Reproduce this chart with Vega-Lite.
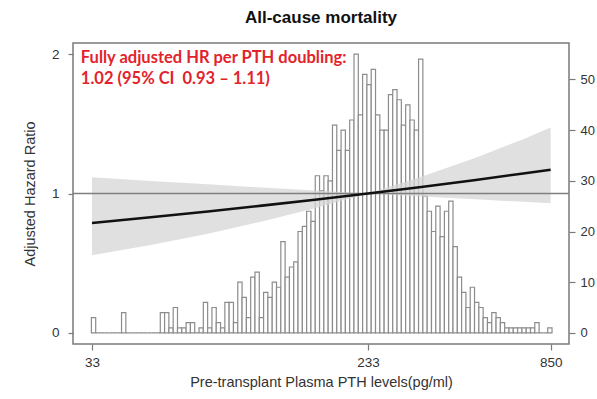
{
  "$schema": "https://vega.github.io/schema/vega-lite/v6.json",
  "width": 496,
  "height": 301,
  "autosize": {"type": "none"},
  "padding": {"left": 73, "top": 43, "right": 28, "bottom": 55},
  "background": "white",
  "title": {"text": "All-cause mortality", "font": "Liberation Sans", "fontSize": 17, "fontWeight": "bold", "color": "#111111", "anchor": "middle", "offset": 16},
  "config": {
    "view": {"stroke": "#7a7a7a", "strokeWidth": 1.5},
    "axis": {"labelFont": "Liberation Sans", "titleFont": "Liberation Sans", "labelColor": "#333333", "titleColor": "#333333", "tickColor": "#7a7a7a", "tickWidth": 1.2, "domain": false, "grid": false, "titleFontWeight": "normal", "labelFontSize": 13.5, "titleFontSize": 14.5}
  },
  "datasets": {
    "pth_hist": [
      {"bin": 0, "n": 3}, {"bin": 1, "n": 0}, {"bin": 2, "n": 0}, {"bin": 3, "n": 0}, {"bin": 4, "n": 0},
      {"bin": 5, "n": 0}, {"bin": 6, "n": 0}, {"bin": 7, "n": 4}, {"bin": 8, "n": 0}, {"bin": 9, "n": 0},
      {"bin": 10, "n": 0}, {"bin": 11, "n": 0}, {"bin": 12, "n": 0}, {"bin": 13, "n": 0}, {"bin": 14, "n": 0},
      {"bin": 15, "n": 0}, {"bin": 16, "n": 4}, {"bin": 17, "n": 4}, {"bin": 18, "n": 1}, {"bin": 19, "n": 5},
      {"bin": 20, "n": 1}, {"bin": 21, "n": 1}, {"bin": 22, "n": 2}, {"bin": 23, "n": 2}, {"bin": 24, "n": 0},
      {"bin": 25, "n": 1}, {"bin": 26, "n": 6}, {"bin": 27, "n": 1}, {"bin": 28, "n": 5}, {"bin": 29, "n": 2},
      {"bin": 30, "n": 1}, {"bin": 31, "n": 6}, {"bin": 32, "n": 6}, {"bin": 33, "n": 2}, {"bin": 34, "n": 10},
      {"bin": 35, "n": 7}, {"bin": 36, "n": 3}, {"bin": 37, "n": 11}, {"bin": 38, "n": 12}, {"bin": 39, "n": 3},
      {"bin": 40, "n": 8}, {"bin": 41, "n": 7}, {"bin": 42, "n": 10}, {"bin": 43, "n": 9}, {"bin": 44, "n": 18},
      {"bin": 45, "n": 11}, {"bin": 46, "n": 13}, {"bin": 47, "n": 14}, {"bin": 48, "n": 20}, {"bin": 49, "n": 21},
      {"bin": 50, "n": 24}, {"bin": 51, "n": 22}, {"bin": 52, "n": 31}, {"bin": 53, "n": 28}, {"bin": 54, "n": 31},
      {"bin": 55, "n": 30}, {"bin": 56, "n": 41}, {"bin": 57, "n": 36}, {"bin": 58, "n": 40}, {"bin": 59, "n": 36},
      {"bin": 60, "n": 42}, {"bin": 61, "n": 55}, {"bin": 62, "n": 43}, {"bin": 63, "n": 51}, {"bin": 64, "n": 49},
      {"bin": 65, "n": 52}, {"bin": 66, "n": 43}, {"bin": 67, "n": 40}, {"bin": 68, "n": 40}, {"bin": 69, "n": 47},
      {"bin": 70, "n": 48}, {"bin": 71, "n": 46}, {"bin": 72, "n": 41}, {"bin": 73, "n": 45}, {"bin": 74, "n": 42},
      {"bin": 75, "n": 40}, {"bin": 76, "n": 54}, {"bin": 77, "n": 27}, {"bin": 78, "n": 24}, {"bin": 79, "n": 20},
      {"bin": 80, "n": 25}, {"bin": 81, "n": 19}, {"bin": 82, "n": 24}, {"bin": 83, "n": 26}, {"bin": 84, "n": 17},
      {"bin": 85, "n": 11}, {"bin": 86, "n": 8}, {"bin": 87, "n": 5}, {"bin": 88, "n": 9}, {"bin": 89, "n": 6},
      {"bin": 90, "n": 5}, {"bin": 91, "n": 3}, {"bin": 92, "n": 2}, {"bin": 93, "n": 4}, {"bin": 94, "n": 3},
      {"bin": 95, "n": 2}, {"bin": 96, "n": 1}, {"bin": 97, "n": 1}, {"bin": 98, "n": 1}, {"bin": 99, "n": 1},
      {"bin": 100, "n": 1}, {"bin": 101, "n": 1}, {"bin": 102, "n": 1}, {"bin": 103, "n": 2}, {"bin": 104, "n": 0},
      {"bin": 105, "n": 0}, {"bin": 106, "n": 1}
    ],
    "hr_curve": [
      {"pth": 33, "hr": 0.788, "lo": 0.557, "hi": 1.116},
      {"pth": 50, "hr": 0.829, "lo": 0.631, "hi": 1.090},
      {"pth": 75, "hr": 0.871, "lo": 0.712, "hi": 1.066},
      {"pth": 110, "hr": 0.913, "lo": 0.799, "hi": 1.043},
      {"pth": 160, "hr": 0.955, "lo": 0.894, "hi": 1.021},
      {"pth": 233, "hr": 1.0, "lo": 1.0, "hi": 1.0},
      {"pth": 340, "hr": 1.047, "lo": 0.979, "hi": 1.120},
      {"pth": 500, "hr": 1.097, "lo": 0.958, "hi": 1.257},
      {"pth": 700, "hr": 1.144, "lo": 0.940, "hi": 1.390},
      {"pth": 850, "hr": 1.171, "lo": 0.930, "hi": 1.473}
    ],
    "note": [
      {"pth": 30.5, "hr": 1.971, "label": "Fully adjusted HR per PTH doubling:"},
      {"pth": 30.5, "hr": 1.821, "label": "1.02 (95% CI\u00a0 0.93 \u2013 1.11)"}
    ]
  },
  "layer": [
    {
      "data": {"name": "pth_hist"},
      "mark": {"type": "bar", "fill": "white", "stroke": "#8c8c8c", "strokeWidth": 1.2, "binSpacing": 0},
      "encoding": {
        "x": {"field": "bin", "type": "quantitative", "bin": {"binned": true, "step": 1}, "scale": {"domain": [-4.158, 111.06], "nice": false, "zero": false}, "axis": null},
        "y": {"field": "n", "type": "quantitative", "scale": {"domain": [-2.2, 57.2], "nice": false, "zero": false},
              "axis": {"orient": "right", "values": [0, 10, 20, 30, 40, 50], "title": null, "tickSize": 6, "labelPadding": 5, "labelFontSize": 13}},
        "y2": {"datum": 0}
      }
    },
    {
      "layer": [
        {
          "data": {"name": "hr_curve"},
          "mark": {"type": "area", "fill": "#d6d6d6", "opacity": 0.75},
          "encoding": {
            "x": {"field": "pth", "type": "quantitative", "scale": {"type": "log", "domain": [28.85, 968], "nice": false},
                  "axis": {"orient": "bottom", "values": [33, 233, 850], "format": "d", "title": "Pre-transplant Plasma PTH levels(pg/ml)", "tickSize": 6, "labelPadding": 5, "titlePadding": 7}},
            "y": {"field": "lo", "type": "quantitative", "scale": {"domain": [-0.08, 2.08], "nice": false, "zero": false},
                  "axis": {"orient": "left", "values": [0, 1, 2], "format": "d", "title": "Adjusted Hazard Ratio", "tickSize": 5, "labelPadding": 9, "titlePadding": 14}},
            "y2": {"field": "hi"}
          }
        },
        {
          "data": {"values": [{"ref": 1}]},
          "mark": {"type": "rule", "stroke": "#7f7f7f", "strokeWidth": 1.5},
          "encoding": {"y": {"field": "ref", "type": "quantitative"}}
        },
        {
          "data": {"name": "hr_curve"},
          "mark": {"type": "line", "stroke": "#111111", "strokeWidth": 2.6},
          "encoding": {
            "x": {"field": "pth", "type": "quantitative"},
            "y": {"field": "hr", "type": "quantitative"}
          }
        },
        {
          "data": {"name": "note"},
          "mark": {"type": "text", "align": "left", "baseline": "middle", "font": "Lato", "fontWeight": "bold", "fontSize": 16.5, "fill": "#e3232b"},
          "encoding": {
            "x": {"field": "pth", "type": "quantitative"},
            "y": {"field": "hr", "type": "quantitative"},
            "text": {"field": "label"}
          }
        }
      ]
    }
  ],
  "resolve": {"scale": {"x": "independent", "y": "independent"}}
}
